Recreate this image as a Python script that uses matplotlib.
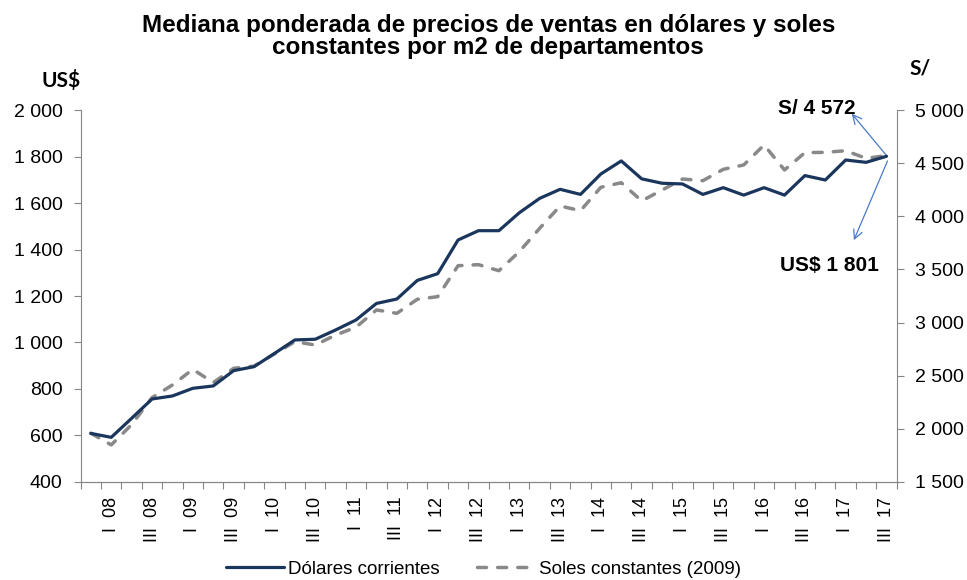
import numpy as np
import matplotlib
matplotlib.use("Agg")
import matplotlib.pyplot as plt

plt.rcParams['font.family'] = ['Liberation Sans', 'DejaVu Sans']

# trimestres IV 07 .. III 17
quarters = (["IV 07"] +
            [q + "  " + y for y in ["08", "09", "10", "11", "12", "13", "14", "15", "16"]
             for q in ["I", "II", "III", "IV"]] +
            ["I  17", "II  17", "III  17"])

dolares = [609, 592, 674, 757, 770, 803, 813, 879, 896, 953,
           1011, 1014, 1054, 1097, 1168, 1187, 1267, 1296, 1441, 1481,
           1481, 1558, 1620, 1659, 1637, 1725, 1781, 1704, 1685, 1682,
           1637, 1666, 1634, 1666, 1634, 1718, 1699, 1785, 1775, 1801]

soles = [1959, 1849, 2040, 2294, 2413, 2560, 2435, 2570, 2590, 2705,
         2820, 2789, 2883, 2957, 3119, 3087, 3219, 3244, 3535, 3545,
         3488, 3667, 3887, 4097, 4053, 4273, 4316, 4145, 4247, 4351,
         4335, 4442, 4483, 4671, 4436, 4599, 4602, 4617, 4545, 4572]

x = np.arange(len(quarters))
axis_gray = '#868686'

fig = plt.figure(figsize=(9.67, 5.8), dpi=100)
ax = fig.add_axes([0.0834, 0.169, 0.8439, 0.6413])
ax2 = ax.twinx()

l1, = ax.plot(x, dolares, color='#1B365D', lw=2.3, label='Dólares corrientes',
              solid_capstyle='round', solid_joinstyle='round', zorder=3)
l2, = ax2.plot(x, soles, color='#898989', lw=2.5, ls=(0, (2.6, 3.2)),
               dash_capstyle='round', label='Soles constantes (2009)')
ax.set_zorder(ax2.get_zorder() + 1)
ax.patch.set_visible(False)

ax.set_xlim(-0.5, len(x) - 0.5)
ax.set_ylim(400, 2000)
ax2.set_ylim(1500, 5000)
ax.set_yticks(np.arange(400, 2001, 200))
ax.set_yticklabels([f"{v:,}".replace(",", " ") for v in range(400, 2001, 200)])
ax2.set_yticks(np.arange(1500, 5001, 500))
ax2.set_yticklabels([f"{v:,}".replace(",", " ") for v in range(1500, 5001, 500)])

# marcas entre categorias
ax.set_xticks(np.arange(-0.5, len(x), 1.0))
ax.set_xticklabels([])
ax.tick_params(axis='x', length=5, color=axis_gray, direction='out')
for i in range(1, len(x), 2):
    ax.text(x[i], 337, quarters[i], rotation=90, ha='center', va='top', fontsize=13)

for a in (ax, ax2):
    a.spines['top'].set_visible(False)
    for s in ('left', 'right', 'bottom'):
        a.spines[s].set_color(axis_gray)
    a.tick_params(axis='y', length=5, color=axis_gray, labelsize=14, pad=8)
ax2.spines['left'].set_visible(False)
ax.spines['right'].set_visible(False)

fig.text(0.505, 0.937, "Mediana ponderada de precios de ventas en dólares y soles\nconstantes por m2 de departamentos",
         ha='center', va='center', fontsize=17.5, fontweight='bold', linespacing=0.9)
fig.text(0.063, 0.862, "US$", ha='center', va='center', fontsize=15, fontweight='bold',
         family=['Lato', 'DejaVu Sans'])
fig.text(0.951, 0.882, "S/", ha='center', va='center', fontsize=15, fontweight='bold',
         family=['Lato', 'DejaVu Sans'])

arrow = dict(arrowstyle='->', color='#4A7BC4', lw=0.9, shrinkA=0, shrinkB=0,
             mutation_scale=16)
ax2.annotate("", xy=(37.3, 4965), xytext=(x[-1], soles[-1]), arrowprops=arrow)
ax.annotate("", xy=(37.4, 1440), xytext=(x[-1] + 0.05, dolares[-1] - 20), arrowprops=arrow)
ax2.text(35.6, 5015, "S/ 4 572", ha='center', va='center', fontsize=15, fontweight='bold')
ax.text(36.2, 1330, "US$ 1 801", ha='center', va='center', fontsize=15, fontweight='bold')

fig.legend(handles=[l1, l2], loc='lower center', ncol=2, frameon=False,
           bbox_to_anchor=(0.5, -0.022), fontsize=13.5, handlelength=3.1,
           handletextpad=0.2, columnspacing=2.0, borderpad=0.3)

fig.savefig("out.png", dpi=100)
